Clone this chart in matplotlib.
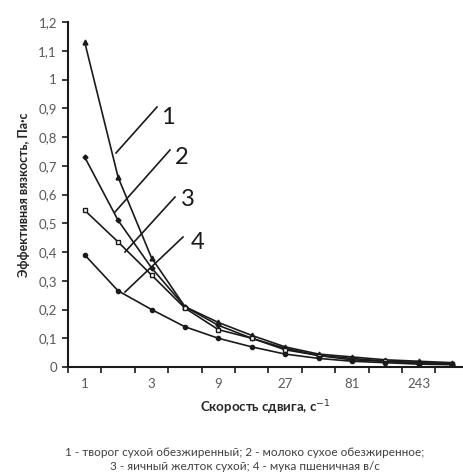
import matplotlib
matplotlib.use("Agg")
import matplotlib.pyplot as plt
from matplotlib.ticker import FixedLocator, FuncFormatter

plt.rcParams['font.family'] = ['Lato', 'DejaVu Sans']

# Data (shear rate categories; every second one labelled)
shear_rates = ["1", "1,7", "3", "5,2", "9", "15,6", "27", "46,8", "81", "140", "243", "421"]
tick_labels = ["1", "3", "9", "27", "81", "243"]

s1_curd = [1.13, 0.66, 0.38, 0.21, 0.155, 0.11, 0.07, 0.045, 0.035, 0.025, 0.02, 0.015]
s2_milk = [0.73, 0.51, 0.345, 0.21, 0.145, 0.10, 0.065, 0.04, 0.03, 0.02, 0.015, 0.012]
s3_yolk = [0.545, 0.435, 0.32, 0.205, 0.13, 0.10, 0.06, 0.04, 0.025, 0.02, 0.015, 0.01]
s4_flour = [0.39, 0.265, 0.20, 0.14, 0.10, 0.07, 0.045, 0.03, 0.02, 0.015, 0.01, 0.008]

W, H = 463, 474
fig = plt.figure(figsize=(W / 100, H / 100), dpi=100)
left, right, top, bottom = 68, 463, 22, 367
ax = fig.add_axes([left / W, 1 - bottom / H, (right - left) / W, (bottom - top) / H])

x = list(range(len(shear_rates)))
lc = '#1a1a1a'
ax.plot(x, s1_curd, color=lc, lw=1.2, marker='^', ms=3.5, mfc=lc, mec=lc)
ax.plot(x, s2_milk, color=lc, lw=1.2, marker='D', ms=2.5, mfc=lc, mec=lc)
ax.plot(x, s3_yolk, color=lc, lw=1.2, marker='s', ms=3.5, mfc='white', mec=lc, mew=1.0)
ax.plot(x, s4_flour, color=lc, lw=1.2, marker='o', ms=3, mfc=lc, mec=lc)

cat_w = 33.4
ax.set_xlim(-0.5, -0.5 + (right - left) / cat_w)
ax.set_ylim(0, 1.2)

ax.xaxis.set_major_locator(FixedLocator([0, 2, 4, 6, 8, 10]))
ax.set_xticklabels(tick_labels)
ax.xaxis.set_minor_locator(FixedLocator([k - 0.5 for k in range(13)]))
ax.tick_params(axis='x', which='major', length=0, pad=8, labelsize=9.5, labelcolor='#595959')
ax.tick_params(axis='x', which='minor', length=4, width=1.2, direction='out', color=lc)

ax.yaxis.set_major_locator(FixedLocator([i / 10 for i in range(13)]))
ax.yaxis.set_major_formatter(FuncFormatter(lambda v, p: ('%g' % round(v, 1)).replace('.', ',')))
ax.tick_params(axis='y', length=4, width=1.2, direction='out', color=lc, labelsize=9.5,
               labelcolor='#595959', pad=4)

for s in ['top', 'right']:
    ax.spines[s].set_visible(False)
for s in ['left', 'bottom']:
    ax.spines[s].set_linewidth(1.5)
    ax.spines[s].set_color(lc)

ax.set_xlabel('Скорость сдвига, с$^{-1}$', fontsize=9.5, fontweight='bold', color='#262626', labelpad=6)
ax.set_ylabel('Эффективная вязкость, Па·с', fontsize=9, fontweight='bold', color='#262626', labelpad=6)

# Leader lines with numbers (in pixel coordinates of the figure)
def px(xp, yp):
    return (xp / W, 1 - yp / H)

leaders = [((116, 153), (157, 107), (168, 117), '1'),
           ((115, 212), (170, 150), (182, 158), '2'),
           ((125, 252), (175, 197), (188, 200), '3'),
           ((125, 292), (183, 237), (198, 243), '4')]
for (p0, p1, pl, lab) in leaders:
    fig.add_artist(plt.Line2D([px(*p0)[0], px(*p1)[0]], [px(*p0)[1], px(*p1)[1]],
                              transform=fig.transFigure, color=lc, lw=1.2))
    fig.text(*px(*pl), lab, fontsize=17, ha='center', va='center', color='#1a1a1a')

fig.text(*px(245, 453), '1 - творог сухой обезжиренный; 2 - молоко сухое обезжиренное;',
         fontsize=8.5, ha='center', va='center', color='#404040')
fig.text(*px(245, 466), '3 - яичный желток сухой; 4 - мука пшеничная в/с',
         fontsize=8.5, ha='center', va='center', color='#404040')

fig.savefig('out.png', dpi=100, facecolor='white')
